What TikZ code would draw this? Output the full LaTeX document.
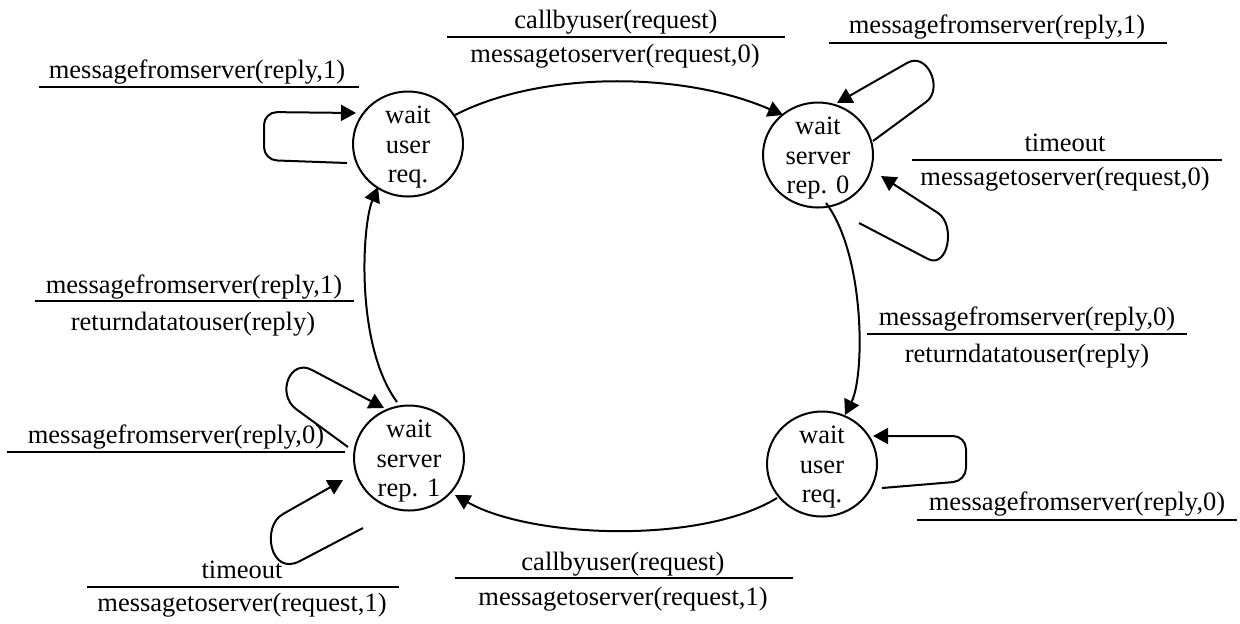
\documentclass[tikz,border=0pt]{standalone}
\usepackage{fontspec}
\setmainfont{Liberation Serif}
\usetikzlibrary{arrows.meta,shapes.geometric,calc}

\begin{document}
\begin{tikzpicture}[x=0.5pt,y=-0.5pt,
  state/.style={draw,ellipse,line width=1pt,minimum width=55pt,minimum height=52.5pt,inner sep=0pt},
  statetext/.style={inner sep=0pt,align=center,font=\fontsize{13.25pt}{14.75pt}\selectfont},
  trans/.style={line width=1pt,-{Triangle[length=7.5pt,width=8pt]}},
  selfloop/.style={trans,rounded corners=6.5pt},
  lbl/.style={anchor=base,inner sep=0pt,font=\fontsize{13.25pt}{15pt}\selectfont},
  bar/.style={line width=1.3pt}]

\useasboundingbox (0,0) rectangle (1240,623);

% states
\node[state] (tl) at (408,144) {};
\node[state] (tr) at (818,155) {};
\node[state] (bl) at (409,458) {};
\node[state] (br) at (822,464) {};
\node[statetext] (tlt) at (tl) {\rule{0pt}{12pt}wait\\user\\req.};
\node[statetext] (trt) at (tr) {\rule{0pt}{12pt}wait\\server\\rep. 0};
\node[statetext] (blt) at (bl) {\rule{0pt}{12pt}wait\\server\\rep. 1};
\node[statetext] (brt) at (br) {\rule{0pt}{12pt}wait\\user\\req.};

% transitions between states
\draw[trans] ($(tl)+(47,-29)$) .. controls (540,71) and (682,71) .. ($(tr)+(-35,-40)$);
\draw[trans] ($(tr)+(8,48)$) .. controls (865,255) and (865,375) .. ($(br)+(23,-49)$);
\draw[trans] ($(br)+(-45,34)$) .. controls (700,545) and (530,538) .. ($(bl)+(46,37)$);
\draw[trans] ($(bl)+(-12,-56)$) .. controls (355,345) and (362,225) .. ($(tl)+(-30,43)$);

% self loops
\draw[selfloop] ($(tl)+(-61,19)$) -- (264,160) -- (264,112) -- ($(tl)+(-52,-31)$);
\draw[trans] ($(tr)+(55,-14)$) -- (926,102) .. controls +(18,-13) and +(20,-12) .. (907,63) -- ($(tr)+(19,-52)$);
\draw[trans] ($(tr)+(41,68)$) -- (928,259) .. controls +(20,10) and +(18,12) .. (938,213) -- ($(tr)+(63,21)$);
\draw[selfloop] ($(br)+(60,24)$) -- (966,481) -- (966,436) -- ($(br)+(51,-28)$);
\draw[trans] ($(bl)+(-61,-11)$) -- (296,409) .. controls +(-20,-15) and +(-22,-12) .. (312,370) -- ($(bl)+(-25,-50)$);
\draw[trans] ($(bl)+(-46,70)$) -- (300,561) .. controls +(-30,16) and +(-22,12) .. (283,514) -- ($(bl)+(-66,22)$);

% transition labels: event over action
\node[lbl] (l1t) at (197,78.5) {messagefromserver(reply,1)};
\draw[bar] (39,87) -- (359,87);

\node[lbl] (l2t) at (616,28) {callbyuser(request)};
\draw[bar] (447,37) -- (785,37);
\node[lbl] (l2b) at (615,62) {messagetoserver(request,0)};

\node[lbl] (l3t) at (997,33) {messagefromserver(reply,1)};
\draw[bar] (829,43) -- (1167,43);

\node[lbl] (l4t) at (1065,151) {timeout};
\draw[bar] (912,160) -- (1222,160);
\node[lbl] (l4b) at (1065,185) {messagetoserver(request,0)};

\node[lbl] (l5t) at (194,293) {messagefromserver(reply,1)};
\draw[bar] (35,301) -- (354,301);
\node[lbl] (l5b) at (193,330) {returndatatouser(reply)};

\node[lbl] (l6t) at (1027,325) {messagefromserver(reply,0)};
\draw[bar] (867,334) -- (1187,334);
\node[lbl] (l6b) at (1027,362) {returndatatouser(reply)};

\node[lbl] (l7t) at (176,443) {messagefromserver(reply,0)};
\draw[bar] (7,452) -- (345,452);

\node[lbl] (l8t) at (242,578) {timeout};
\draw[bar] (87,587) -- (399,587);
\node[lbl] (l8b) at (242,611) {messagetoserver(request,1)};

\node[lbl] (l9t) at (1077,510) {messagefromserver(reply,0)};
\draw[bar] (917,520) -- (1237,520);

\node[lbl] (l10t) at (623,570) {callbyuser(request)};
\draw[bar] (455,578) -- (793,578);
\node[lbl] (l10b) at (623,605) {messagetoserver(request,1)};

\end{tikzpicture}
\end{document}
